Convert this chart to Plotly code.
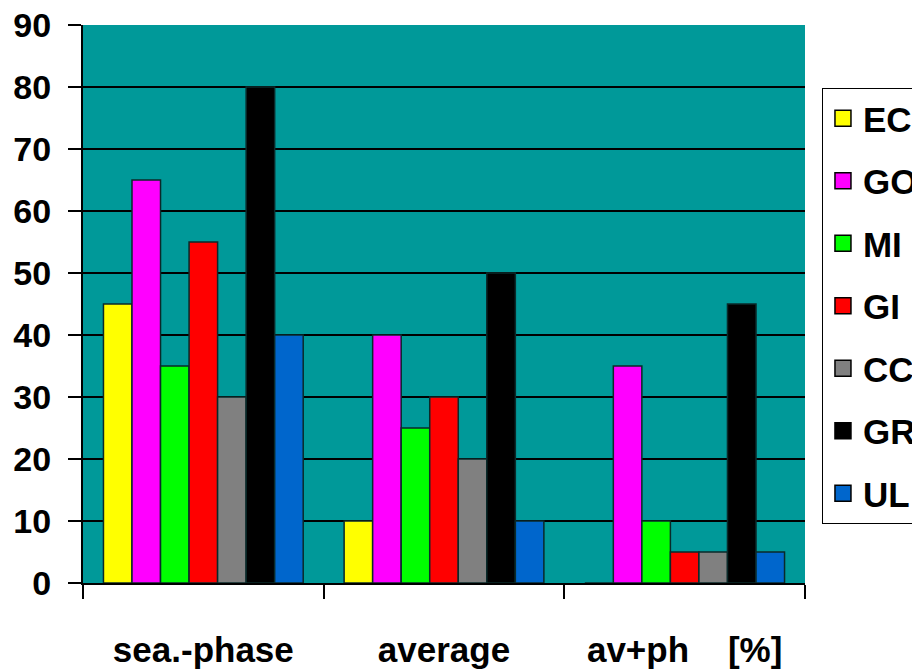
import plotly.graph_objects as go

categories = ["sea.-phase", "average", "av+ph\u00a0\u00a0\u00a0\u00a0[%]"]
series_names = ["EC", "GO", "MI", "GI", "CC", "GR", "UL"]
series_values = {
    "EC": [45, 10, 0],
    "GO": [65, 40, 35],
    "MI": [35, 25, 10],
    "GI": [55, 30, 5],
    "CC": [30, 20, 5],
    "GR": [80, 50, 45],
    "UL": [40, 10, 5],
}
series_colors = {
    "EC": "#FFFF00",
    "GO": "#FF00FF",
    "MI": "#00FF00",
    "GI": "#FF0000",
    "CC": "#808080",
    "GR": "#000000",
    "UL": "#0066CC",
}
y_ticks = [0, 10, 20, 30, 40, 50, 60, 70, 80, 90]

FONT = "Liberation Sans, Arial, sans-serif"

fig = go.Figure()
for name in series_names:
    fig.add_trace(go.Bar(
        name=name,
        x=categories,
        y=series_values[name],
        marker=dict(color=series_colors[name], line=dict(color="#0a2a2a", width=1.5)),
        showlegend=False,
        legendgroup=name,
    ))
# legend entries with larger square swatches
for name in series_names:
    fig.add_trace(go.Scatter(
        name=name,
        x=[None], y=[None],
        mode="markers",
        marker=dict(symbol="square", size=16, color=series_colors[name],
                    line=dict(color="black", width=1.5)),
        legendgroup=name,
        showlegend=True,
    ))

fig.update_layout(
    width=920, height=672,
    margin=dict(l=75, r=123, t=17, b=97, autoexpand=False),
    paper_bgcolor="white",
    plot_bgcolor="#009999",
    barmode="group",
    bargap=0.17,
    bargroupgap=0,
    font=dict(family=FONT, size=32, color="black", weight="bold"),
    showlegend=True,
    legend=dict(
        x=1.0235, y=0.887, xanchor="left", yanchor="top",
        bgcolor="white", bordercolor="black", borderwidth=1,
        font=dict(family=FONT, size=35, color="black", weight="bold"),
        tracegroupgap=14,
        traceorder="grouped",
        itemwidth=30,
    ),
    xaxis=dict(
        type="category",
        tickson="boundaries",
        ticks="outside", ticklen=14, tickwidth=1.5, tickcolor="black",
        showline=True, linecolor="black", linewidth=2,
        showgrid=False,
        tickangle=0,
        automargin=False,
        ticklabelstandoff=35,
        tickfont=dict(family=FONT, size=35, color="black", weight="bold"),
    ),
    yaxis=dict(
        range=[0, 90],
        tickvals=y_ticks,
        ticks="outside", ticklen=13, tickwidth=2, tickcolor="black",
        showline=True, linecolor="black", linewidth=2,
        showgrid=True, gridcolor="black", gridwidth=2,
        zeroline=False,
        automargin=False,
        ticklabelstandoff=10,
        ticklabeloverflow="allow",
        tickfont=dict(family=FONT, size=34, color="black", weight="bold"),
    ),
)

fig.write_html("out.html")
